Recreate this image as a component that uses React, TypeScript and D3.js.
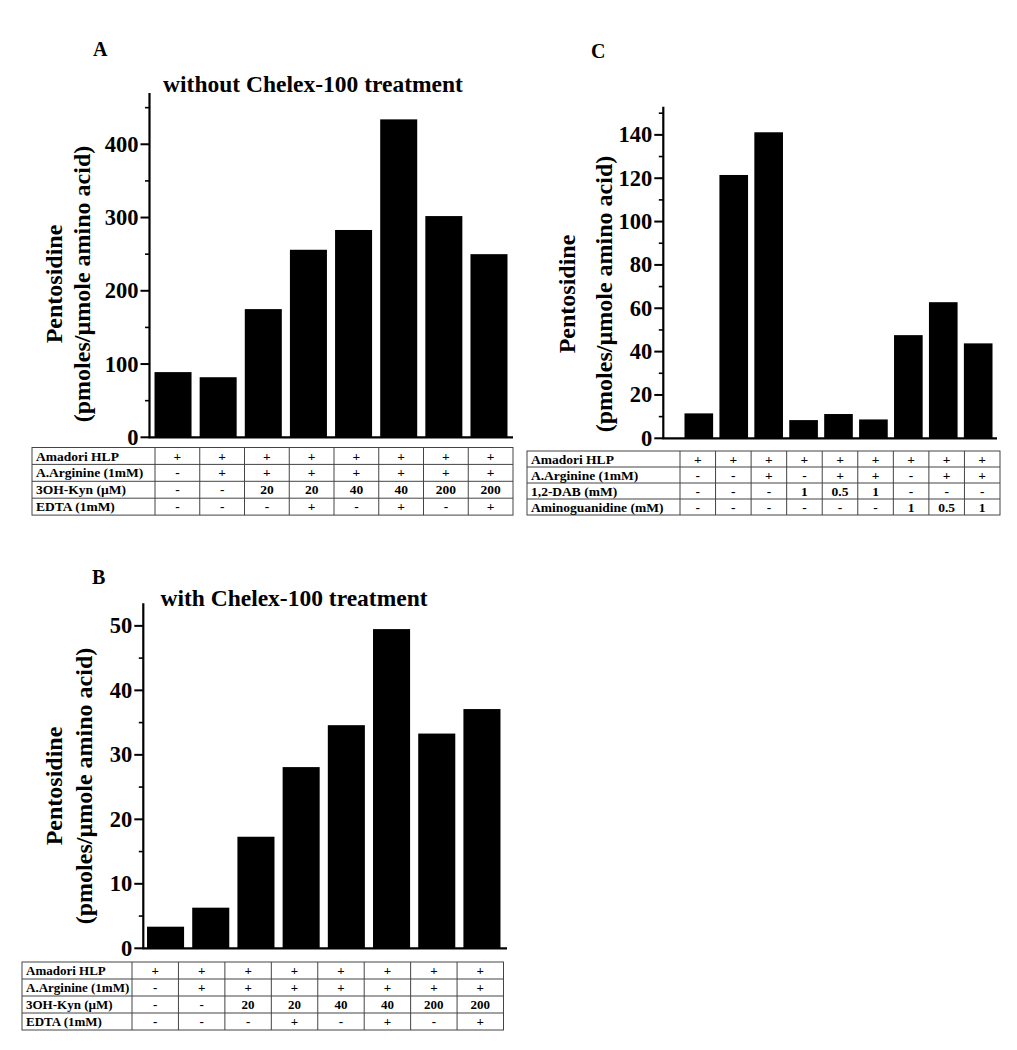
import React, { useEffect, useRef } from "react";
import * as d3 from "d3";

// ---------- data ----------
const catsA = ["1", "2", "3", "4", "5", "6", "7", "8"];
const valuesA = [89, 82, 175, 256, 283, 434, 302, 250];
const valuesB = [3.35, 6.3, 17.3, 28.1, 34.6, 49.5, 33.3, 37.1];
const catsC = ["1", "2", "3", "4", "5", "6", "7", "8", "9"];
const valuesC = [11.5, 121.5, 141.2, 8.4, 11.2, 8.7, 47.6, 62.8, 43.8];

const rowLabelsAB = ["Amadori HLP", "A.Arginine (1mM)", "3OH-Kyn (\u00b5M)", "EDTA (1mM)"];
const rowHLP_AB = ["+", "+", "+", "+", "+", "+", "+", "+"];
const rowArg_AB = ["-", "+", "+", "+", "+", "+", "+", "+"];
const rowKyn_AB = ["-", "-", "20", "20", "40", "40", "200", "200"];
const rowEDTA_AB = ["-", "-", "-", "+", "-", "+", "-", "+"];

const rowLabelsC = ["Amadori HLP", "A.Arginine (1mM)", "1,2-DAB (mM)", "Aminoguanidine (mM)"];
const rowHLP_C = ["+", "+", "+", "+", "+", "+", "+", "+", "+"];
const rowArg_C = ["-", "-", "+", "-", "+", "+", "-", "+", "+"];
const rowDAB_C = ["-", "-", "-", "1", "0.5", "1", "-", "-", "-"];
const rowAG_C = ["-", "-", "-", "-", "-", "-", "1", "0.5", "1"];

const ticksA = [0, 100, 200, 300, 400];
const ticksB = [0, 10, 20, 30, 40, 50];
const ticksC = [0, 20, 40, 60, 80, 100, 120, 140];

const FONT = "'Liberation Serif', 'Times New Roman', serif";

type PanelCfg = {
  cats: string[];
  values: number[];
  yMax: number;
  ticks: number[];
  minorStep: number;
  axisX0: number;
  axisX1: number;
  bandX0: number;
  bandX1: number;
  yTop: number;
  yBase: number;
  letter: string;
  letterX: number;
  letterY: number;
  title?: string;
  titleX?: number;
  titleY?: number;
  ylab1X: number;
  ylab2X: number;
  ylabY: number;
  table: {
    labels: string[];
    rows: string[][];
    left: number;
    labelRight: number;
    right: number;
    top: number;
    rowH: number;
    fontSize: number;
  };
};

function drawPanel(svg: d3.Selection<SVGSVGElement, unknown, null, undefined>, c: PanelCfg) {
  const g = svg.append("g");
  const x = d3.scaleBand<string>().domain(c.cats).range([c.bandX0, c.bandX1]).paddingInner(0.18).paddingOuter(0.1);
  const y = d3.scaleLinear().domain([0, c.yMax]).range([c.yBase, c.yTop]);

  // bars
  g.selectAll("rect.bar")
    .data(c.values)
    .join("rect")
    .attr("class", "bar")
    .attr("x", (_d, i) => x(c.cats[i])!)
    .attr("width", x.bandwidth())
    .attr("y", (d) => y(d))
    .attr("height", (d) => c.yBase - y(d))
    .attr("fill", "#000");

  // y axis line
  g.append("line")
    .attr("x1", c.axisX0).attr("x2", c.axisX0)
    .attr("y1", c.yTop).attr("y2", c.yBase)
    .attr("stroke", "#000").attr("stroke-width", 2.2);
  // x axis line
  g.append("line")
    .attr("x1", c.axisX0 - 1).attr("x2", c.axisX1)
    .attr("y1", c.yBase).attr("y2", c.yBase)
    .attr("stroke", "#000").attr("stroke-width", 2.2);

  // minor ticks
  const minor = d3.range(0, c.yMax + 1e-9, c.minorStep).filter((v) => !c.ticks.includes(v));
  g.selectAll("line.minor").data(minor).join("line")
    .attr("x1", c.axisX0 - 4.5).attr("x2", c.axisX0)
    .attr("y1", (d) => y(d)).attr("y2", (d) => y(d))
    .attr("stroke", "#000").attr("stroke-width", 1.6);
  g.selectAll("line.major").data(c.ticks).join("line")
    .attr("x1", c.axisX0 - 9).attr("x2", c.axisX0)
    .attr("y1", (d) => y(d)).attr("y2", (d) => y(d))
    .attr("stroke", "#000").attr("stroke-width", 2);
  g.selectAll("text.tick").data(c.ticks).join("text")
    .attr("x", c.axisX0 - 11)
    .attr("y", (d) => y(d) + 7.5)
    .attr("text-anchor", "end")
    .attr("font-family", FONT).attr("font-weight", "bold").attr("font-size", 22.5)
    .text((d) => String(d));

  // panel letter and title
  g.append("text").attr("x", c.letterX).attr("y", c.letterY)
    .attr("font-family", FONT).attr("font-weight", "bold").attr("font-size", 20).text(c.letter);
  if (c.title) {
    g.append("text").attr("x", c.titleX!).attr("y", c.titleY!)
      .attr("text-anchor", "middle")
      .attr("font-family", FONT).attr("font-weight", "bold").attr("font-size", 23.5).text(c.title);
  }

  // y labels
  g.append("text")
    .attr("transform", `translate(${c.ylab1X},${c.ylabY}) rotate(-90)`)
    .attr("text-anchor", "middle")
    .attr("font-family", FONT).attr("font-weight", "bold").attr("font-size", 24)
    .text("Pentosidine");
  g.append("text")
    .attr("transform", `translate(${c.ylab2X},${c.ylabY}) rotate(-90)`)
    .attr("text-anchor", "middle")
    .attr("font-family", FONT).attr("font-weight", "bold").attr("font-size", 24)
    .text("(pmoles/\u00b5mole amino acid)");

  // table
  const t = c.table;
  const n = c.cats.length;
  const colX = d3.scaleLinear().domain([0, n]).range([t.labelRight, t.right]);
  const rowY = d3.scaleLinear().domain([0, t.rows.length]).range([t.top, t.top + t.rowH * t.rows.length]);
  const tg = g.append("g");
  tg.append("rect")
    .attr("x", t.left).attr("y", t.top)
    .attr("width", t.right - t.left).attr("height", t.rowH * t.rows.length)
    .attr("fill", "none").attr("stroke", "#444").attr("stroke-width", 1);
  d3.range(1, t.rows.length).forEach((r) => {
    tg.append("line").attr("x1", t.left).attr("x2", t.right)
      .attr("y1", rowY(r)).attr("y2", rowY(r)).attr("stroke", "#444").attr("stroke-width", 1);
  });
  d3.range(0, n).forEach((k) => {
    tg.append("line").attr("x1", colX(k)).attr("x2", colX(k))
      .attr("y1", t.top).attr("y2", t.top + t.rowH * t.rows.length)
      .attr("stroke", "#444").attr("stroke-width", 1);
  });
  t.labels.forEach((lab, r) => {
    tg.append("text").attr("x", t.left + 4).attr("y", rowY(r) + t.rowH / 2 + t.fontSize * 0.34)
      .attr("font-family", FONT).attr("font-weight", "bold").attr("font-size", t.fontSize).text(lab);
  });
  t.rows.forEach((row, r) => {
    row.forEach((v, k) => {
      tg.append("text")
        .attr("x", (colX(k) + colX(k + 1)) / 2)
        .attr("y", rowY(r) + t.rowH / 2 + t.fontSize * 0.34)
        .attr("text-anchor", "middle")
        .attr("font-family", FONT).attr("font-weight", "bold").attr("font-size", t.fontSize)
        .text(v);
    });
  });
}

export default function App() {
  const ref = useRef<SVGSVGElement>(null);
  useEffect(() => {
    const svg = d3.select(ref.current!);
    svg.selectAll("*").remove();

    drawPanel(svg, {
      cats: catsA, values: valuesA, yMax: 470, ticks: ticksA, minorStep: 50,
      axisX0: 149.5, axisX1: 513, bandX0: 150, bandX1: 512, yTop: 93, yBase: 437.3,
      letter: "A", letterX: 93, letterY: 56,
      title: "without Chelex-100 treatment", titleX: 313, titleY: 92,
      ylab1X: 62, ylab2X: 90, ylabY: 284,
      table: {
        labels: rowLabelsAB, rows: [rowHLP_AB, rowArg_AB, rowKyn_AB, rowEDTA_AB],
        left: 32, labelRight: 155, right: 513, top: 447.5, rowH: 16.9, fontSize: 13.5,
      },
    });

    drawPanel(svg, {
      cats: catsA, values: valuesB, yMax: 53.5, ticks: ticksB, minorStep: 5,
      axisX0: 143.3, axisX1: 507, bandX0: 142.5, bandX1: 505, yTop: 603.3, yBase: 948.3,
      letter: "B", letterX: 92, letterY: 584,
      title: "with Chelex-100 treatment", titleX: 294, titleY: 606,
      ylab1X: 62, ylab2X: 92, ylabY: 786,
      table: {
        labels: rowLabelsAB, rows: [rowHLP_AB, rowArg_AB, rowKyn_AB, rowEDTA_AB],
        left: 22, labelRight: 132, right: 503.5, top: 962, rowH: 17, fontSize: 13,
      },
    });

    drawPanel(svg, {
      cats: catsC, values: valuesC, yMax: 153, ticks: ticksC, minorStep: 10,
      axisX0: 663.3, axisX1: 997, bandX0: 681, bandX1: 996, yTop: 106.7, yBase: 438.3,
      letter: "C", letterX: 591, letterY: 58,
      ylab1X: 575, ylab2X: 612, ylabY: 294,
      table: {
        labels: rowLabelsC, rows: [rowHLP_C, rowArg_C, rowDAB_C, rowAG_C],
        left: 527, labelRight: 680, right: 1000, top: 451, rowH: 16, fontSize: 13.5,
      },
    });
  }, []);
  return (
    <svg
      ref={ref}
      width={1017}
      height={1050}
      style={{ position: "absolute", left: 0, top: 0, background: "#fff" }}
    />
  );
}
